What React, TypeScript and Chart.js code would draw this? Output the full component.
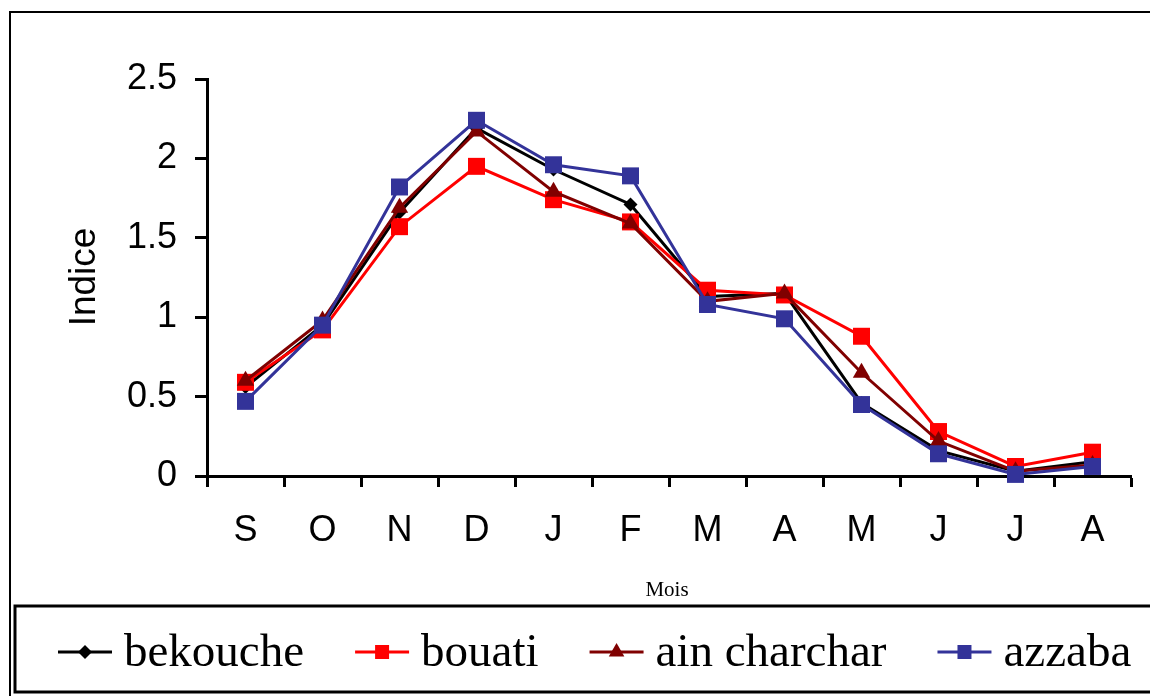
import React, { useEffect, useRef } from "react";
import { Chart, registerables } from "chart.js";

Chart.register(...registerables);

const months = ["S", "O", "N", "D", "J", "F", "M", "A", "M", "J", "J", "A"];
const bekouche = [0.56, 0.95, 1.66, 2.19, 1.93, 1.71, 1.13, 1.15, 0.46, 0.16, 0.03, 0.09];
const bouati = [0.59, 0.92, 1.57, 1.95, 1.74, 1.6, 1.17, 1.14, 0.88, 0.28, 0.06, 0.15];
const ainCharchar = [0.6, 0.98, 1.69, 2.17, 1.79, 1.59, 1.1, 1.15, 0.65, 0.22, 0.03, 0.07];
const azzaba = [0.47, 0.95, 1.82, 2.24, 1.96, 1.89, 1.08, 0.99, 0.45, 0.14, 0.01, 0.06];
const seriesNames = ["bekouche", "bouati", "ain charchar", "azzaba"];
const seriesColors = ["#000000", "#FF0000", "#800000", "#333399"];
const seriesMarkers = ["rectRot", "rect", "triangle", "rect"];
const seriesRadius = [7, 12, 10, 12];
const yTitle = "Indice";
const xTitle = "Mois";

const decorPlugin = {
  id: "decor",
  afterDraw(chart: any) {
    const ctx = chart.ctx as CanvasRenderingContext2D;
    ctx.save();
    // outer frame
    ctx.strokeStyle = "#000";
    ctx.lineWidth = 2;
    ctx.beginPath();
    ctx.moveTo(10, 700);
    ctx.lineTo(10, 12);
    ctx.lineTo(1160, 12);
    ctx.stroke();
    // y title
    ctx.fillStyle = "#000";
    ctx.font = "37px 'Liberation Sans', Arial, sans-serif";
    ctx.textAlign = "center";
    ctx.textBaseline = "middle";
    ctx.save();
    ctx.translate(85, 277);
    ctx.rotate(-Math.PI / 2);
    ctx.fillText(yTitle, 0, 0);
    ctx.restore();
    // x title
    ctx.font = "21px 'Liberation Serif', 'Times New Roman', serif";
    ctx.fillText(xTitle, 667, 590);
    // legend box
    ctx.lineWidth = 3;
    ctx.strokeRect(15, 606, 1160, 86);
    // legend items
    ctx.font = "47px 'Liberation Serif', 'Times New Roman', serif";
    ctx.textAlign = "left";
    let x = 58;
    const y = 652;
    chart.data.datasets.forEach((ds: any, i: number) => {
      ctx.strokeStyle = seriesColors[i];
      ctx.lineWidth = 3;
      ctx.beginPath();
      ctx.moveTo(x, y);
      ctx.lineTo(x + 54, y);
      ctx.stroke();
      const r = i === 0 ? 7 : 9;
      const style = seriesMarkers[i];
      ctx.fillStyle = seriesColors[i];
      const cx = x + 27;
      ctx.beginPath();
      if (style === "rectRot") {
        ctx.moveTo(cx, y - r);
        ctx.lineTo(cx + r, y);
        ctx.lineTo(cx, y + r);
        ctx.lineTo(cx - r, y);
        ctx.closePath();
      } else if (style === "triangle") {
        ctx.moveTo(cx, y - r);
        ctx.lineTo(cx + r * 0.866, y + r * 0.5);
        ctx.lineTo(cx - r * 0.866, y + r * 0.5);
        ctx.closePath();
      } else {
        ctx.rect(cx - 7, y - 7, 14, 14);
      }
      ctx.fill();
      ctx.fillStyle = "#000";
      ctx.textBaseline = "middle";
      ctx.fillText(ds.label, x + 66, y + 2);
      x += 66 + ctx.measureText(ds.label).width + 51;
    });
    ctx.restore();
  },
};

export default function App() {
  const ref = useRef<HTMLCanvasElement | null>(null);
  useEffect(() => {
    document.body.style.margin = "0";
    const values = [bekouche, bouati, ainCharchar, azzaba];
    const chart = new Chart(ref.current as HTMLCanvasElement, {
      type: "line",
      data: {
        labels: months,
        datasets: values.map((v, i) => ({
          label: seriesNames[i],
          data: v,
          borderColor: seriesColors[i],
          backgroundColor: seriesColors[i],
          pointBackgroundColor: seriesColors[i],
          pointBorderColor: seriesColors[i],
          pointStyle: seriesMarkers[i] as any,
          pointRadius: seriesRadius[i],
          pointBorderWidth: 0,
          borderWidth: 3,
          tension: 0,
          order: 4 - i,
          clip: false as any,
        })),
      },
      options: {
        animation: false,
        responsive: false,
        layout: { padding: { left: 0, top: 79, right: 19, bottom: 0 } },
        plugins: { legend: { display: false }, tooltip: { enabled: false } },
        scales: {
          x: {
            offset: true,
            grid: {
              offset: true,
              drawOnChartArea: false,
              drawTicks: true,
              tickLength: 11,
              tickWidth: 3,
              tickColor: "#000",
            },
            border: { display: true, color: "#000", width: 3 },
            ticks: {
              color: "#000",
              padding: 22,
              font: { family: "'Liberation Sans', Arial, sans-serif", size: 36 },
              maxRotation: 0,
              autoSkip: false,
            },
            afterFit: (s: any) => {
              s.height = 220;
            },
          },
          y: {
            min: 0,
            max: 2.5,
            grid: {
              drawOnChartArea: false,
              drawTicks: true,
              tickLength: 12,
              tickWidth: 3,
              tickColor: "#000",
            },
            border: { display: true, color: "#000", width: 3 },
            ticks: {
              stepSize: 0.5,
              color: "#000",
              padding: 18,
              font: { family: "'Liberation Sans', Arial, sans-serif", size: 36 },
              callback: (v: any) => String(Number(v)),
            },
            afterFit: (s: any) => {
              s.width = 207;
            },
          },
        },
      },
      plugins: [decorPlugin],
    });
    return () => chart.destroy();
  }, []);
  return (
    <div style={{ position: "absolute", left: 0, top: 0, width: 1150, height: 696, background: "#fff" }}>
      <canvas ref={ref} width={1150} height={696} />
    </div>
  );
}
